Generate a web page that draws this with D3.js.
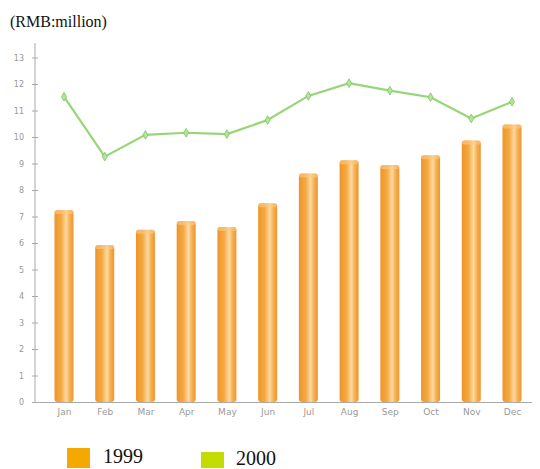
<!DOCTYPE html>
<html><head><meta charset="utf-8">
<script src="https://cdn.jsdelivr.net/npm/d3@7"></script>
<style>body{margin:0;background:#fff;}svg{display:block;}</style>
</head><body>
<script>
const months = ["Jan","Feb","Mar","Apr","May","Jun","Jul","Aug","Sep","Oct","Nov","Dec"];
const values1999 = [7.25, 5.92, 6.5, 6.83, 6.6, 7.5, 8.62, 9.12, 8.94, 9.31, 9.87, 10.47];
const values2000 = [11.52, 9.26, 10.08, 10.16, 10.11, 10.64, 11.55, 12.03, 11.75, 11.5, 10.7, 11.33];
const yTicks = [0,1,2,3,4,5,6,7,8,9,10,11,12,13];
const legendLabels = ["1999","2000"];
const legendColors = ["#f5a800","#c3dc00"];
const unitLabel = "(RMB:million)";

const W = 540, H = 469;
const svg = d3.select("body").append("svg").attr("width", W).attr("height", H);

const defs = svg.append("defs");
const g1 = defs.append("linearGradient").attr("id","barGrad").attr("x1","0%").attr("x2","100%").attr("y1","0%").attr("y2","0%");
[["0%","#ee952c"],["35%","#f4a940"],["62%","#fdd9a4"],["80%","#f5b050"],["100%","#ee952c"]].forEach(([o,c])=>g1.append("stop").attr("offset",o).attr("stop-color",c));

const y = d3.scaleLinear().domain([0, 13]).range([402, 57.5]);
const x = d3.scalePoint().domain(months).range([64, 512]);
const barW = 19;

svg.append("text").attr("x", 10).attr("y", 27).attr("font-family","Liberation Serif, Times New Roman, serif")
  .attr("font-size", 16).attr("fill","#111").text(unitLabel);

// y axis
const yAxis = d3.axisLeft(y).tickValues(yTicks).tickSize(4).tickPadding(7).tickFormat(d3.format("d"));
const ya = svg.append("g").attr("transform","translate(35,0)").call(yAxis);
ya.select(".domain").remove();
ya.selectAll(".tick line").attr("stroke","#aaa").attr("x2", 3).attr("x1",-3);
ya.selectAll(".tick text").attr("fill","#999").attr("font-size", 8).attr("font-family","DejaVu Sans, sans-serif");
svg.append("line").attr("x1",35).attr("x2",35).attr("y1",43).attr("y2",402).attr("stroke","#aaa");

// x axis
const xa = svg.append("g").attr("transform","translate(0,402)").call(d3.axisBottom(x).tickSize(0).tickPadding(7));
xa.select(".domain").remove();
xa.selectAll(".tick text").attr("fill","#999").attr("font-size", 9).attr("font-family","DejaVu Sans, sans-serif");
svg.append("line").attr("x1",35).attr("x2",532).attr("y1",402.5).attr("y2",402.5).attr("stroke","#aaa");

// bars
svg.append("g").selectAll("rect").data(values1999).join("rect")
  .attr("x",(d,i)=>x(months[i]) - barW/2).attr("y", d=>y(d)).attr("width", barW)
  .attr("height", d=>y(0)-y(d)).attr("rx",3).attr("fill","url(#barGrad)");
svg.append("g").selectAll("rect").data(values1999).join("rect")
  .attr("x",(d,i)=>x(months[i]) - barW/2).attr("y", d=>y(d)).attr("width", barW)
  .attr("height", 4).attr("rx",3).attr("fill","#fbc983").attr("opacity",0.6);

// line
const line = d3.line().x((d,i)=>x(months[i])).y(d=>y(d));
svg.append("path").datum(values2000).attr("d", line).attr("fill","none")
  .attr("stroke","#96d676").attr("stroke-width",2.2);
svg.append("g").selectAll("path").data(values2000).join("path")
  .attr("d", d3.symbol().type(d3.symbolDiamond).size(22))
  .attr("transform",(d,i)=>`translate(${x(months[i])},${y(d)})`)
  .attr("fill","#b5e39c").attr("stroke","#7cc65a").attr("stroke-width",0.8);

// legend
const legX = [67, 201], legY = [448, 452], legS = [[23,20],[23,16]], txtX = [103, 236], txtY = [463, 465];
legendLabels.forEach((lab,i)=>{
  svg.append("rect").attr("x",legX[i]).attr("y",legY[i]).attr("width",legS[i][0]).attr("height",legS[i][1]).attr("fill",legendColors[i]);
  svg.append("text").attr("x",txtX[i]).attr("y",txtY[i]).attr("font-family","Liberation Serif, Times New Roman, serif")
    .attr("font-size",20).attr("fill","#111").text(lab);
});
</script>
</body></html>
